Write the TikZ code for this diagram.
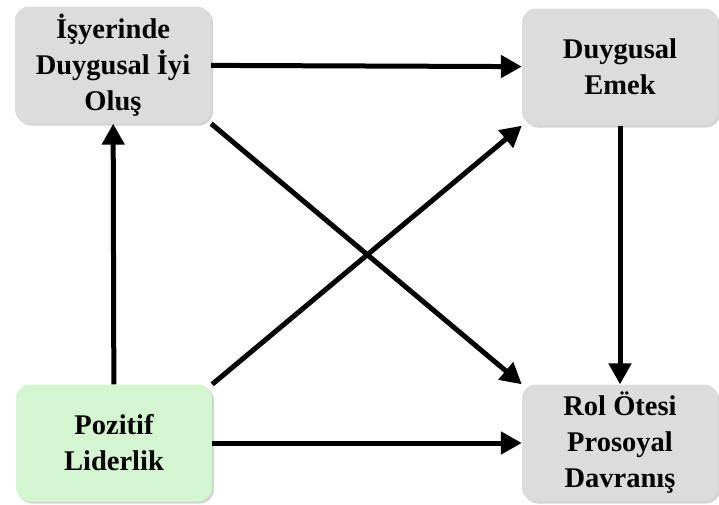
\documentclass[tikz,border=0pt]{standalone}
\usepackage{fontspec}
\setmainfont{Liberation Serif}
\usetikzlibrary{arrows.meta,shadows}
\definecolor{kutugri}{HTML}{DCDCDC}
\definecolor{kutuyesil}{HTML}{D3F6D0}
\begin{document}
\begin{tikzpicture}[x=1pt,y=-1pt,
    kutu/.style={fill=kutugri,rounded corners=14pt,minimum width=196pt,minimum height=117pt,inner sep=0pt,align=center,
      font=\bfseries\fontsize{28.5}{36}\selectfont,drop shadow={shadow xshift=2pt,shadow yshift=-2pt,opacity=.35}},
    ok/.style={line width=5pt,-{Triangle[length=21pt,width=22pt]}}]
    \useasboundingbox (0,0) rectangle (719,504);
    \node[kutu] (iyi) at (113,65) {İşyerinde\\Duygusal İyi\\Oluş};
    \node[kutu] (emek) at (620,67) {Duygusal\\Emek};
    \node[kutu,fill=kutuyesil] (lider) at (114,443) {Pozitif\\Liderlik};
    \node[kutu] (rol) at (620,443) {Rol Ötesi\\Prosoyal\\Davranış};
    \draw[ok] (iyi) -- (emek);
    \draw[ok] (lider) -- (iyi);
    \draw[ok] (emek) -- (rol);
    \draw[ok] (lider) -- (rol);
    \draw[ok] (iyi.south east) -- (rol.north west);
    \draw[ok] (lider.north east) -- (emek.south west);%capraz oklar
\end{tikzpicture}
\end{document}
